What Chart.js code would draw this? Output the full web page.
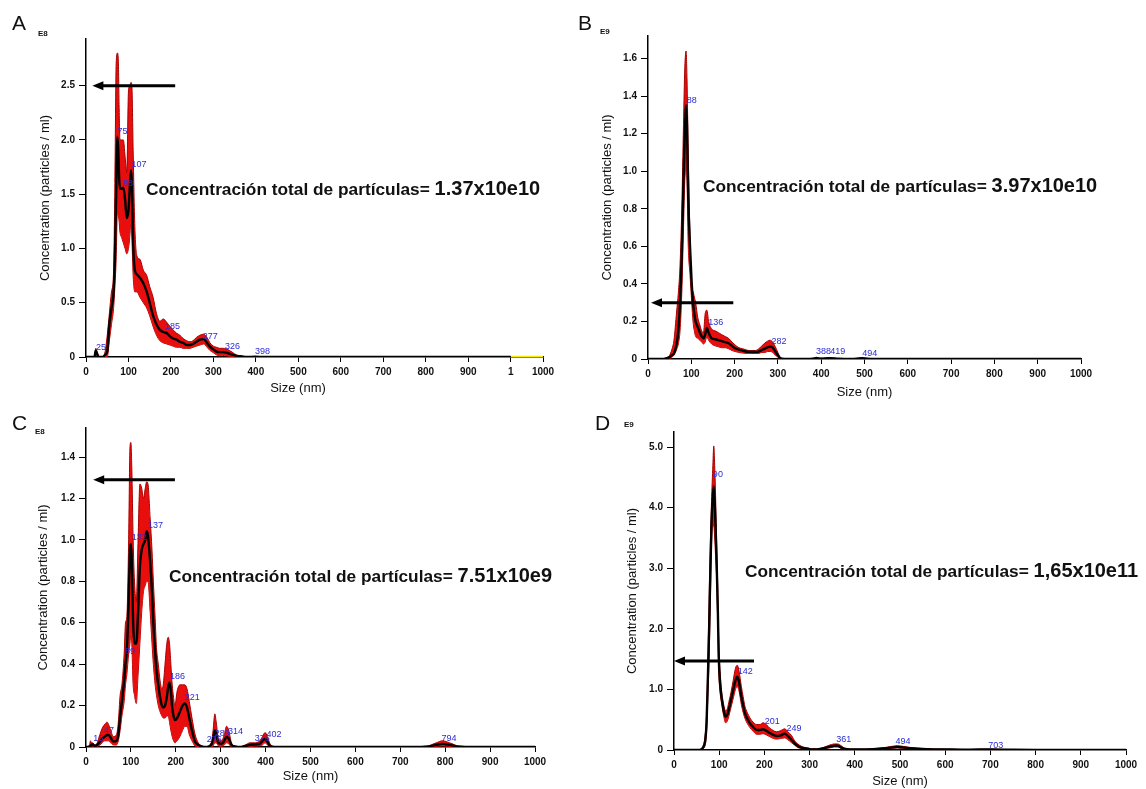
<!DOCTYPE html>
<html>
<head>
<meta charset="utf-8">
<script src="https://cdn.jsdelivr.net/npm/chart.js@4/dist/chart.umd.min.js"></script>
<style>
  html, body { margin:0; padding:0; background:#fff; overflow:hidden; }
  #wrap { position:relative; width:1146px; height:789px; background:#fff; font-family: Arial, "Liberation Sans", sans-serif; }
  .pane { position:absolute; }
  .letter { position:absolute; font-size:21px; line-height:21px; color:#111; font-family: "Liberation Sans", Arial, sans-serif; }
  .exp { position:absolute; font-size:8px; font-weight:bold; line-height:8px; color:#111; }
  .note { position:absolute; white-space:nowrap; font-weight:bold; color:#111; font-size:20px; line-height:20px; }
  .note .t { font-size:17.3px; }
  .xt { position:absolute; font-size:13px; line-height:13px; color:#111; text-align:center; width:100px; }
</style>
</head>
<body>
<div id="wrap">
  <div class="pane" style="left:0;top:0;width:573px;height:400px"><canvas id="cA" width="573" height="400"></canvas></div>
  <div class="pane" style="left:573px;top:0;width:573px;height:400px"><canvas id="cB" width="573" height="400"></canvas></div>
  <div class="pane" style="left:0;top:394px;width:573px;height:395px"><canvas id="cC" width="573" height="395"></canvas></div>
  <div class="pane" style="left:573px;top:394px;width:573px;height:395px"><canvas id="cD" width="573" height="395"></canvas></div>

  <div class="letter" style="left:12px;top:12px">A</div>
  <div class="letter" style="left:578px;top:12px">B</div>
  <div class="letter" style="left:12px;top:412px">C</div>
  <div class="letter" style="left:595px;top:412px">D</div>

  <div class="exp" style="left:38px;top:30px">E8</div>
  <div class="exp" style="left:600px;top:28px">E9</div>
  <div class="exp" style="left:35px;top:428px">E8</div>
  <div class="exp" style="left:624px;top:421px">E9</div>

  <div class="note" style="left:146px;top:178px"><span class="t">Concentración total de partículas= </span>1.37x10e10</div>
  <div class="note" style="left:703px;top:175px"><span class="t">Concentración total de partículas= </span>3.97x10e10</div>
  <div class="note" style="left:169px;top:565px"><span class="t">Concentración total de partículas= </span>7.51x10e9</div>
  <div class="note" style="left:745px;top:560px"><span class="t">Concentración total de partículas= </span>1,65x10e11</div>

  <div class="xt" style="left:248px;top:381px">Size (nm)</div>
</div>
<script>
// ---------------- Panel A (E8) ----------------
const sizeA  = [0,10,20,23,26, 30,35,40,45,50, 55,60,65,68,71, 74,76,78,80,84, 88,92,96,100,103, 106,108,111,115,120, 127,135,143,150,158, 166,174,182,190,198, 205,213,221,229,237, 245,252,260,268,277, 285,292,300,307,315, 322,330,338,346,354, 366,378,398,420,500, 700,1000];
const meanA  = [0,0,0,0.06,0.03, 0,0,0,0.02,0.05, 0.3,0.45,0.6,0.9,1.5, 2.03,1.9,1.65,1.55,1.55, 1.56,1.45,1.28,1.35,1.55, 1.72,1.6,1.05,0.8,0.76, 0.73,0.68,0.6,0.5,0.38, 0.3,0.25,0.23,0.22,0.19, 0.17,0.16,0.14,0.13,0.11, 0.11,0.12,0.14,0.16,0.165, 0.13,0.095,0.07,0.05,0.045, 0.045,0.04,0.03,0.02,0.01, 0.005,0,0.003,0,0, 0,0];
const upperA = [0,0,0.01,0.08,0.05, 0.01,0,0,0.05,0.2, 0.4,0.6,0.8,1.6,2.7, 2.8,2.75,2.3,2.0,2.0, 2.0,1.85,1.7,2.45,2.5, 2.53,2.5,1.9,1.2,0.93, 0.9,0.8,0.75,0.65,0.55, 0.4,0.33,0.35,0.32,0.28, 0.25,0.22,0.2,0.17,0.15, 0.14,0.15,0.18,0.2,0.21, 0.18,0.13,0.1,0.09,0.08, 0.08,0.075,0.06,0.04,0.02, 0.01,0.003,0.005,0,0, 0,0];
const lowerA = [0,0,0,0.04,0.01, 0,0,0,0,0, 0.15,0.3,0.45,0.65,0.9, 1.35,1.3,1.25,1.15,1.1, 1.05,1.0,0.95,1.0,1.1, 1.25,1.1,0.75,0.6,0.6, 0.55,0.5,0.45,0.38,0.28, 0.2,0.15,0.13,0.12,0.11, 0.1,0.09,0.09,0.08,0.08, 0.08,0.09,0.1,0.11,0.12, 0.09,0.06,0.04,0.02,0.01, 0.015,0.01,0.005,0,0, 0,0,0,0,0, 0,0];
const yellowXA = [1000, 1076];
const yellowYA = [0, 0];
const xTicksA = [0,100,200,300,400,500,600,700,800,900,1000,1076];
const xTickLabelsA = ['0','100','200','300','400','500','600','700','800','900','1','1000'];
const yTicksA = [0,0.5,1.0,1.5,2.0,2.5];
const peakTextA = ['25','75','88','107','185','277','326','398'];
const peakXA = [23.5,74,87,107,186,275,327,398];
const peakYA = [0.09,2.08,1.6,1.77,0.28,0.19,0.10,0.055];
const arrowXA = [210, 15];
const arrowYA = 2.5;

// ---------------- Panel B (E9) ----------------
const sizeB  = [0,20,31,40,50, 55,60,66,70,74, 78,82,85,88,90, 93,97,101,104,107, 110,115,120,124,128, 132,136,140,147,155, 163,170,178,186,194, 201,210,218,225,233, 240,248,256,263,270, 276,282,288,294,300, 305,315,330,360,385, 388,400,419,440,470, 494,520,600,1000];
const meanB  = [0,0,0,0.002,0.01, 0.02,0.03,0.08,0.15,0.3, 0.55,0.95,1.2,1.35,1.25, 0.86,0.6,0.4,0.3,0.24, 0.2,0.17,0.14,0.12,0.11, 0.13,0.165,0.14,0.11,0.105, 0.1,0.095,0.09,0.084,0.07, 0.057,0.05,0.045,0.04,0.038, 0.037,0.037,0.04,0.048,0.055, 0.062,0.066,0.06,0.04,0.02, 0.005,0,0,0,0.003, 0.005,0.002,0.004,0.001,0, 0.004,0,0,0];
const upperB = [0,0,0,0.005,0.02, 0.05,0.1,0.25,0.35,0.5, 0.8,1.25,1.55,1.64,1.5, 1.1,0.65,0.38,0.36,0.33, 0.3,0.22,0.18,0.15,0.14, 0.24,0.26,0.2,0.16,0.15, 0.14,0.13,0.12,0.11,0.09, 0.075,0.06,0.055,0.05,0.045, 0.045,0.045,0.055,0.07,0.085, 0.095,0.1,0.09,0.065,0.035, 0.01,0,0,0,0.005, 0.008,0.004,0.006,0.002,0, 0.006,0,0,0];
const lowerB = [0,0,0,0,0, 0.01,0.02,0.05,0.08,0.15, 0.35,0.7,0.95,1.0,0.95, 0.6,0.45,0.3,0.2,0.15, 0.12,0.11,0.1,0.09,0.08, 0.09,0.12,0.1,0.08,0.07, 0.065,0.06,0.06,0.055,0.045, 0.04,0.035,0.032,0.03,0.03, 0.03,0.03,0.03,0.035,0.035, 0.04,0.04,0.035,0.02,0.01, 0,0,0,0,0.001, 0.002,0,0.002,0,0, 0.002,0,0,0];
const yTicksB = [0,0.2,0.4,0.6,0.8,1.0,1.2,1.4,1.6];
const peakTextB = ['88','136','282','388','419','494'];
const peakXB = [89.5,139,285,388,421,495];
const peakYB = [1.376,0.194,0.092,0.039,0.039,0.027];
const arrowXB = [197, 7];
const arrowYB = 0.30;

// ---------------- Panel C (E8) ----------------
const sizeC  = [0,8,10,12,15, 20,25,31,36,42, 47,50,55,61,68, 72,76,80,85,88, 91,95,98,100,102, 105,108,112,116,120, 124,128,132,135,138, 143,147,150,154,157, 161,165,169,172,176, 180,183,186,189,192, 195,198,203,209,215, 220,225,230,236,243, 250,254,262,269,276, 280,283,287,290,295, 302,308,313,318,324, 333,343,355,365,375, 387,393,399,404,410, 420,450,500,600,700, 760,780,794,810,830, 900,1000];
const meanC  = [0,0,0.005,0.01,0.012, 0.005,0.01,0.026,0.04,0.05, 0.058,0.058,0.045,0.026,0.03, 0.06,0.146,0.22,0.32,0.4, 0.47,0.7,0.95,0.98,0.9, 0.6,0.5,0.5,0.65,0.87, 0.95,0.98,1.0,1.04,1.02, 0.89,0.75,0.6,0.46,0.37, 0.3,0.24,0.2,0.19,0.2, 0.24,0.29,0.31,0.27,0.19, 0.15,0.13,0.14,0.17,0.2, 0.21,0.19,0.14,0.08,0.025, 0.01,0.005,0,0,0.005, 0.015,0.034,0.08,0.06,0.02, 0.015,0.03,0.05,0.04,0.01, 0.002,0,0.005,0.01,0.012, 0.015,0.03,0.04,0.025,0.005, 0,0,0,0,0, 0.002,0.01,0.015,0.01,0.002, 0,0];
const upperC = [0,0.01,0.03,0.02,0.02, 0.01,0.02,0.06,0.09,0.11, 0.12,0.11,0.08,0.05,0.06, 0.12,0.25,0.3,0.45,0.6, 0.63,1.0,1.45,1.47,1.35, 1.0,0.8,0.7,1.0,1.27, 1.25,1.2,1.25,1.28,1.27, 1.1,0.95,0.8,0.62,0.48, 0.4,0.32,0.28,0.3,0.4, 0.5,0.53,0.5,0.4,0.3, 0.24,0.2,0.27,0.3,0.3, 0.3,0.28,0.22,0.14,0.06, 0.02,0.01,0.003,0.002,0.01, 0.03,0.08,0.16,0.12,0.04, 0.03,0.06,0.1,0.08,0.02, 0.005,0.002,0.01,0.02,0.02, 0.03,0.05,0.07,0.05,0.015, 0.002,0,0,0,0, 0.005,0.02,0.03,0.02,0.005, 0,0];
const lowerC = [0,0,0,0,0.005, 0,0.002,0.01,0.02,0.03, 0.03,0.03,0.02,0.01,0.01, 0.03,0.08,0.15,0.22,0.3, 0.35,0.45,0.5,0.55,0.5, 0.3,0.25,0.21,0.35,0.5, 0.65,0.75,0.78,0.8,0.8, 0.65,0.5,0.4,0.3,0.25, 0.2,0.17,0.15,0.14,0.14, 0.15,0.15,0.12,0.08,0.05, 0.03,0.02,0.03,0.05,0.08, 0.1,0.1,0.06,0.03,0.005, 0,0,0,0,0, 0,0.005,0.02,0.02,0.005, 0.002,0.01,0.02,0.015,0, 0,0,0,0.002,0.004, 0.005,0.01,0.02,0.01,0, 0,0,0,0,0, 0,0.003,0.005,0.003,0, 0,0];
const yTicksC = [0,0.2,0.4,0.6,0.8,1.0,1.2,1.4];
const peakTextC = ['15','47','89','132','137','186','221','276','289','314','376','402','794'];
const peakXC = [16,40,87,102,138,187,220,269,287,316,376,402,792];
const peakYC = [0.04,0.08,0.46,1.01,1.07,0.34,0.24,0.034,0.067,0.074,0.04,0.058,0.04];
const arrowXC = [198, 16];
const arrowYC = 1.29;

// ---------------- Panel D (E9) ----------------
const sizeD  = [0,20,40,54,60, 65,69,72,75,78, 80,83,86,88,90, 92,94,97,99,102, 105,110,114,118,121, 126,131,136,140,144, 149,153,157,162,168, 175,183,190,197,204, 212,220,227,236,245, 252,260,267,274,282, 289,297,304,315,326, 337,348,355,362,370, 377,390,410,440,470, 494,520,560,600,650, 703,750,800,900,1000];
const meanD  = [0,0,0,0,0.01, 0.05,0.15,0.44,1.2,2.09, 2.8,3.74,4.2,4.35,4.1, 3.7,3.19,2.3,1.54,1.1, 0.88,0.65,0.55,0.58,0.66, 0.82,0.99,1.15,1.21,1.12, 0.88,0.74,0.61,0.52,0.44, 0.38,0.33,0.33,0.34,0.32, 0.28,0.25,0.23,0.24,0.27, 0.23,0.17,0.11,0.066,0.04, 0.03,0.02,0.01,0.01,0.02, 0.04,0.06,0.07,0.07,0.04, 0.02,0.01,0.01,0.015,0.03, 0.05,0.03,0.015,0.01,0.005, 0.01,0.003,0,0,0];
const upperD = [0,0,0,0,0.02, 0.08,0.25,0.6,1.5,2.6, 3.3,4.1,4.7,5.02,4.7, 4.2,3.5,2.6,1.8,1.3, 1.0,0.75,0.65,0.68,0.78, 0.95,1.15,1.35,1.4,1.3, 1.05,0.88,0.72,0.62,0.53, 0.46,0.42,0.42,0.45,0.42, 0.36,0.32,0.3,0.32,0.35, 0.3,0.24,0.15,0.1,0.06, 0.04,0.03,0.02,0.02,0.03, 0.06,0.09,0.1,0.1,0.07, 0.03,0.015,0.015,0.02,0.045, 0.07,0.045,0.02,0.015,0.008, 0.015,0.005,0,0,0];
const lowerD = [0,0,0,0,0, 0.03,0.08,0.3,0.9,1.6, 2.3,3.4,3.7,3.7,3.5, 3.2,2.9,2.0,1.3,0.95, 0.78,0.56,0.45,0.48,0.55, 0.7,0.85,1.0,1.05,0.97, 0.75,0.62,0.52,0.44,0.37, 0.31,0.26,0.26,0.27,0.25, 0.22,0.19,0.18,0.19,0.2, 0.17,0.12,0.08,0.04,0.025, 0.02,0.01,0.005,0.005,0.012, 0.025,0.04,0.05,0.05,0.025, 0.01,0.005,0.005,0.01,0.02, 0.035,0.02,0.01,0.005,0.002, 0.005,0,0,0,0];
const yTicksD = [0,1.0,2.0,3.0,4.0,5.0];
const peakTextD = ['90','142','201','249','361','494','703'];
const peakXD = [86,141,201,249,359,490,695];
const peakYD = [4.54,1.30,0.47,0.36,0.17,0.14,0.08];
const arrowXD = [177, 0];
const arrowYD = 1.47;

const xTicks1000 = [0,100,200,300,400,500,600,700,800,900,1000];

// ---------------- helpers ----------------
Chart.defaults.font.family = 'Arial, "Liberation Sans", sans-serif';
Chart.defaults.color = '#111';

function pts(xs, ys) { return xs.map((x, i) => ({ x: x, y: ys[i] })); }

function overlayPlugin(texts, xs, ys, arrowX, arrowY) {
  return {
    id: 'overlay',
    afterDatasetsDraw(chart) {
      const ctx = chart.ctx, sx = chart.scales.x, sy = chart.scales.y;
      ctx.save();
      ctx.font = '9px Arial, "Liberation Sans", sans-serif';
      ctx.fillStyle = '#2b2bd6';
      ctx.textAlign = 'left';
      ctx.textBaseline = 'middle';
      texts.forEach((t, i) => ctx.fillText(t, sx.getPixelForValue(xs[i]), sy.getPixelForValue(ys[i])));
      const x1 = sx.getPixelForValue(arrowX[0]);
      const x2 = sx.getPixelForValue(arrowX[1]);
      const yy = sy.getPixelForValue(arrowY);
      ctx.strokeStyle = '#000';
      ctx.lineWidth = 3;
      ctx.beginPath(); ctx.moveTo(x1, yy); ctx.lineTo(x2 + 8, yy); ctx.stroke();
      ctx.fillStyle = '#000';
      ctx.beginPath(); ctx.moveTo(x2, yy); ctx.lineTo(x2 + 11, yy - 4.5); ctx.lineTo(x2 + 11, yy + 4.5); ctx.closePath(); ctx.fill();
      ctx.restore();
    }
  };
}

function makeChart(id, cfg) {
  const datasets = [
    { data: pts(cfg.size, cfg.mean), borderColor: '#000', borderWidth: 2.4, pointRadius: 0, fill: false, cubicInterpolationMode: 'monotone' },
    { data: pts(cfg.size, cfg.upper), borderColor: '#a80000', borderWidth: 1, pointRadius: 0, fill: '+1', backgroundColor: 'rgb(232,14,14)', cubicInterpolationMode: 'monotone' },
    { data: pts(cfg.size, cfg.lower), borderColor: '#a80000', borderWidth: 1, pointRadius: 0, fill: false, cubicInterpolationMode: 'monotone' }
  ];
  if (cfg.extraX) {
    datasets.push({ data: pts(cfg.extraX, cfg.extraY), borderColor: 'rgb(250,235,0)', borderWidth: 2.5, pointRadius: 0, fill: false });
  }
  return new Chart(document.getElementById(id), {
    type: 'line',
    data: { datasets: datasets },
    plugins: [overlayPlugin(cfg.pText, cfg.pX, cfg.pY, cfg.arrowX, cfg.arrowY)],
    options: {
      responsive: false,
      animation: false,
      devicePixelRatio: 1,
      layout: { padding: cfg.pad },
      plugins: { legend: { display: false }, tooltip: { enabled: false } },
      scales: {
        x: {
          type: 'linear',
          min: 0, max: cfg.xMax,
          afterBuildTicks: (s) => { s.ticks = cfg.xTicks.map(v => ({ value: v })); },
          afterFit: (s) => { s.height = cfg.xH; },
          ticks: {
            font: { size: 10, weight: 'bold' }, color: '#111', padding: 4, maxRotation: 0, autoSkip: false,
            callback: (v, i) => cfg.xLabels ? cfg.xLabels[i] : String(v)
          },
          grid: { display: true, drawOnChartArea: false, tickLength: 5, color: '#000', lineWidth: 1 },
          border: { display: true, color: '#000', width: 1.5 },
          title: { display: cfg.xTitle, text: 'Size (nm)', font: { size: 13 }, color: '#111', padding: { top: 0, bottom: cfg.xTitlePad } }
        },
        y: {
          type: 'linear',
          min: 0, max: cfg.yMax,
          afterBuildTicks: (s) => { s.ticks = cfg.yTicks.map(v => ({ value: v })); },
          afterFit: (s) => { s.width = cfg.yW; },
          ticks: {
            font: { size: 10, weight: 'bold' }, color: '#111', padding: 4, autoSkip: false,
            callback: (v) => v === 0 ? '0' : v.toFixed(1)
          },
          grid: { display: true, drawOnChartArea: false, tickLength: 7, color: '#000', lineWidth: 1 },
          border: { display: true, color: '#000', width: 1.5 },
          title: { display: true, text: 'Concentration (particles / ml)', font: { size: 13 }, color: '#111', padding: { top: cfg.yTitlePad, bottom: 0 } }
        }
      }
    }
  });
}

makeChart('cA', {
  size: sizeA, mean: meanA, upper: upperA, lower: lowerA,
  extraX: yellowXA, extraY: yellowYA,
  xMax: 1076, xTicks: xTicksA, xLabels: xTickLabelsA, yMax: 2.93, yTicks: yTicksA,
  pad: { left: 0, top: 39, right: 30, bottom: 0 }, yW: 86, xH: 43, xTitle: false, xTitlePad: 0, yTitlePad: 38,
  pText: peakTextA, pX: peakXA, pY: peakYA, arrowX: arrowXA, arrowY: arrowYA
});
makeChart('cB', {
  size: sizeB, mean: meanB, upper: upperB, lower: lowerB,
  xMax: 1000, xTicks: xTicks1000, yMax: 1.72, yTicks: yTicksB,
  pad: { left: 0, top: 36, right: 65, bottom: 0 }, yW: 75, xH: 41, xTitle: true, xTitlePad: 0, yTitlePad: 27,
  pText: peakTextB, pX: peakXB, pY: peakYB, arrowX: arrowXB, arrowY: arrowYB
});
makeChart('cC', {
  size: sizeC, mean: meanC, upper: upperC, lower: lowerC,
  xMax: 1000, xTicks: xTicks1000, yMax: 1.54, yTicks: yTicksC,
  pad: { left: 0, top: 34, right: 38, bottom: 0 }, yW: 86, xH: 42, xTitle: true, xTitlePad: 5, yTitlePad: 36,
  pText: peakTextC, pX: peakXC, pY: peakYC, arrowX: arrowXC, arrowY: arrowYC
});
makeChart('cD', {
  size: sizeD, mean: meanD, upper: upperD, lower: lowerD,
  xMax: 1000, xTicks: xTicks1000, yMax: 5.25, yTicks: yTicksD,
  pad: { left: 0, top: 38, right: 20, bottom: 0 }, yW: 101, xH: 39, xTitle: true, xTitlePad: 0, yTitlePad: 52,
  pText: peakTextD, pX: peakXD, pY: peakYD, arrowX: arrowXD, arrowY: arrowYD
});
</script>
</body>
</html>
